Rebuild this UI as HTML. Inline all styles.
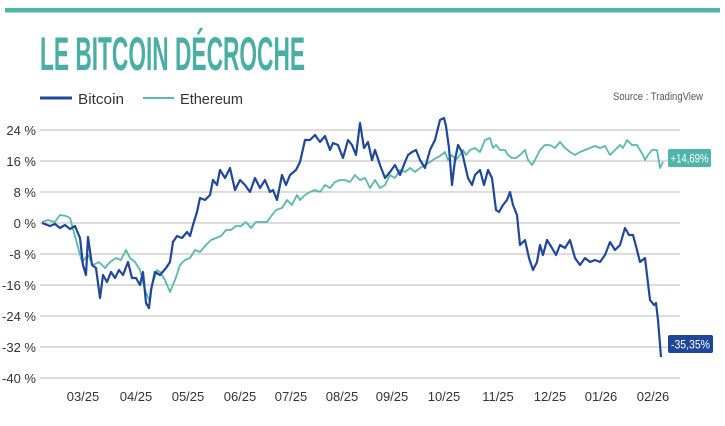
<!DOCTYPE html><html><head><style>
body{margin:0;background:#fff;width:725px;height:421px;overflow:hidden;font-family:"Liberation Sans",sans-serif}
</style></head><body>
<svg width="725" height="421" viewBox="0 0 725 421" xmlns="http://www.w3.org/2000/svg" font-family="Liberation Sans, sans-serif">
<rect x="5" y="8" width="715" height="4.5" fill="#4fb3aa"/>
<text x="40" y="70" font-size="47" font-weight="bold" fill="#4aaea5" textLength="265" lengthAdjust="spacingAndGlyphs">LE BITCOIN DÉCROCHE</text>
<line x1="40" y1="98" x2="72" y2="98" stroke="#1f4799" stroke-width="3"/>
<text x="78" y="104" font-size="15" fill="#333" textLength="46" lengthAdjust="spacingAndGlyphs">Bitcoin</text>
<line x1="143" y1="98" x2="174" y2="98" stroke="#5ab8ae" stroke-width="2"/>
<text x="180" y="104" font-size="15" fill="#333" textLength="63" lengthAdjust="spacingAndGlyphs">Ethereum</text>
<text x="703" y="100" font-size="11" fill="#555" text-anchor="end" textLength="90" lengthAdjust="spacingAndGlyphs">Source : TradingView</text>
<g stroke="#b8b8b8" stroke-width="1">
<line x1="40" y1="130" x2="680" y2="130"/><line x1="40" y1="161" x2="680" y2="161"/><line x1="40" y1="192" x2="680" y2="192"/><line x1="40" y1="223" x2="680" y2="223"/><line x1="40" y1="254" x2="680" y2="254"/><line x1="40" y1="285" x2="680" y2="285"/><line x1="40" y1="316" x2="680" y2="316"/><line x1="40" y1="347" x2="680" y2="347"/><line x1="40" y1="378" x2="680" y2="378"/>
</g>
<g font-size="13" fill="#333" text-anchor="end">
<text x="36" y="135">24 %</text><text x="36" y="166">16 %</text><text x="36" y="197">8 %</text><text x="36" y="228">0 %</text><text x="36" y="259">-8 %</text><text x="36" y="290">-16 %</text><text x="36" y="321">-24 %</text><text x="36" y="352">-32 %</text><text x="36" y="383">-40 %</text>
</g>
<g font-size="13" fill="#333" text-anchor="middle">
<text x="83" y="401">03/25</text><text x="136" y="401">04/25</text><text x="188" y="401">05/25</text><text x="240" y="401">06/25</text><text x="291" y="401">07/25</text><text x="342" y="401">08/25</text><text x="392" y="401">09/25</text><text x="444" y="401">10/25</text><text x="498" y="401">11/25</text><text x="550" y="401">12/25</text><text x="601" y="401">01/26</text><text x="653" y="401">02/26</text>
</g>
<polyline fill="none" stroke="#5ab8ae" stroke-width="1.8" stroke-linejoin="round" points="42,222 48,220 55,222 60,215 66,216 70,218 76,240 82,262 88,255 93,265 99,262 105,268 110,262 116,258 121,260 126,250 130,258 135,262 140,270 145,290 150,302 152,285 157,270 160,272 165,280 170,292 175,280 180,265 185,260 190,258 195,250 200,252 206,245 211,240 216,238 221,236 226,230 231,230 236,226 241,226 246,222 251,228 256,222 262,222 267,222 272,215 276,210 282,208 287,200 292,205 297,195 300,200 305,195 310,192 315,190 320,192 325,185 330,188 335,182 340,180 345,180 350,182 355,175 360,180 365,178 370,188 375,180 380,188 385,185 390,175 395,178 400,170 405,172 410,168 415,172 420,168 425,165 430,162 436,158 440,156 445,152 448,160 452,155 456,160 460,155 463,150 466,155 470,150 475,148 480,152 485,140 490,138 493,148 496,145 500,150 505,150 508,155 512,158 516,158 520,155 525,150 528,160 532,165 535,160 540,150 545,145 550,145 555,148 560,142 565,148 570,152 575,155 580,152 585,150 590,148 595,146 600,148 605,146 610,155 615,150 620,145 623,148 627,140 632,145 637,145 640,150 643,155 645,160 648,155 652,150 657,150 660,168 663,162"/>
<polyline fill="none" stroke="#1f4799" stroke-width="2.2" stroke-linejoin="round" points="42,223 50,226 55,224 60,228 65,225 70,229 75,226 80,238 83,265 86,275 88,237 92,265 96,268 100,298 103,275 107,282 111,272 115,278 119,270 123,275 128,262 132,278 136,278 140,285 143,272 146,303 149,308 151,290 155,272 160,275 166,268 170,262 173,242 177,236 182,238 187,232 190,236 193,225 197,212 200,198 205,200 210,195 213,180 217,185 220,170 225,178 230,168 235,190 240,180 245,185 250,192 255,178 260,188 265,180 270,192 273,190 277,200 282,175 286,185 290,175 296,170 300,162 305,140 310,140 315,135 320,142 325,136 330,150 333,143 338,145 343,158 348,140 352,145 356,155 360,123 364,148 368,142 372,160 375,150 380,165 385,178 390,172 395,165 400,175 405,162 408,155 412,152 416,150 420,160 425,168 430,150 435,140 440,120 444,118 446,126 449,148 452,185 455,160 458,145 462,152 465,165 468,178 472,185 475,175 480,170 484,185 488,170 492,178 496,210 499,212 503,205 507,200 510,192 513,205 517,215 520,245 525,240 529,258 533,270 537,262 540,245 543,255 547,240 552,248 556,255 560,245 565,248 570,240 575,258 580,265 585,258 590,262 595,260 600,262 605,255 610,242 615,250 620,245 625,228 629,235 633,235 637,250 640,262 645,258 650,300 654,305 656,303 658,320 661,357"/>
<rect x="668" y="149" width="43" height="18" rx="2" fill="#4fb5aa"/>
<text x="689.5" y="162.5" font-size="12" fill="#fff" text-anchor="middle" textLength="38" lengthAdjust="spacingAndGlyphs">+14,69%</text>
<rect x="668" y="335" width="45" height="18" rx="2" fill="#1f4799"/>
<text x="690.5" y="348.5" font-size="12" fill="#fff" text-anchor="middle" textLength="39" lengthAdjust="spacingAndGlyphs">-35,35%</text>
</svg>
</body></html>
